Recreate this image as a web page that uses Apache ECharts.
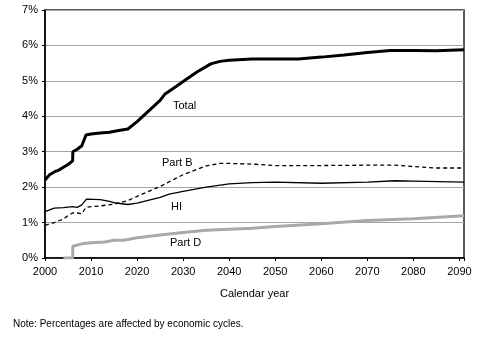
<!DOCTYPE html>
<html><head><meta charset="utf-8">
<script src="https://cdn.jsdelivr.net/npm/echarts@6/dist/echarts.min.js"></script>
<style>html,body{margin:0;padding:0;background:#fff}#c{width:500px;height:339px}</style>
</head><body><div id="c"></div>
<script>
var yTicks = ['0%','1%','2%','3%','4%','5%','6%','7%'];
var totalYears = [2000,2001,2002,2003,2004,2005,2006,2006.05,2007,2008,2008.9,2009,2010,2012,2014,2016,2018,2020,2022,2024,2025,2026,2028,2030,2033,2036,2038,2040,2045,2050,2055,2060,2065,2070,2075,2080,2085,2091];
var total = [2.2,2.35,2.43,2.48,2.56,2.64,2.74,3.0,3.07,3.17,3.47,3.5,3.5,3.53,3.55,3.6,3.64,3.85,4.09,4.33,4.45,4.62,4.8,4.98,5.25,5.48,5.55,5.58,5.62,5.62,5.62,5.67,5.73,5.8,5.86,5.86,5.85,5.88];
var partBYears = [2000,2002,2004,2005,2006,2007,2008,2008.9,2010,2012,2015,2018,2020,2022,2025,2028,2030,2033,2035,2038,2040,2045,2050,2060,2070,2076,2080,2085,2091];
var partB = [0.92,1.0,1.1,1.2,1.27,1.27,1.25,1.43,1.45,1.47,1.52,1.62,1.74,1.85,2.02,2.22,2.35,2.5,2.6,2.67,2.67,2.65,2.61,2.61,2.62,2.62,2.58,2.54,2.54];
var hiYears = [2000,2002,2004,2006,2007,2008,2009,2012,2014,2015,2018,2020,2025,2027,2030,2035,2040,2045,2050,2060,2070,2076,2080,2091];
var hi = [1.31,1.41,1.42,1.45,1.43,1.5,1.66,1.65,1.6,1.56,1.51,1.55,1.71,1.8,1.88,2.0,2.09,2.13,2.14,2.11,2.14,2.18,2.17,2.14];
var partDYears = [2004,2006,2006.05,2008,2010,2013,2015,2017,2018,2020,2025,2030,2035,2040,2045,2050,2060,2070,2080,2091];
var partD = [0,0,0.33,0.4,0.43,0.45,0.5,0.5,0.52,0.57,0.65,0.72,0.78,0.81,0.84,0.89,0.97,1.06,1.11,1.19];
function pairs(xs, ys){ return xs.map(function(x,i){return [x, ys[i]];}); }
var chart = echarts.init(document.getElementById('c'));
var font = 'Liberation Sans, Arial, sans-serif';
chart.setOption({
  animation:false,
  grid:{left:45,right:36,top:10,bottom:81,show:true,borderColor:'#222',borderWidth:1.5,backgroundColor:'transparent'},
  xAxis:{type:'value',min:2000,max:2091,interval:10,
    name:'Calendar year',nameLocation:'middle',nameGap:30,
    nameTextStyle:{color:'#000',fontFamily:font,fontSize:11},
    axisLine:{lineStyle:{color:'#000',width:1.5}},
    axisTick:{show:true,length:3,lineStyle:{color:'#000'}},
    axisLabel:{color:'#000',fontFamily:font,fontSize:11,margin:8,
      formatter:function(v){return v%10===0?String(v):'';}},
    splitLine:{show:false}},
  yAxis:{type:'value',min:0,max:7,interval:1,
    axisLine:{show:true,lineStyle:{color:'#000',width:1.5}},
    axisTick:{show:true,length:3,lineStyle:{color:'#000'}},
    axisLabel:{color:'#000',fontFamily:font,fontSize:11,margin:7,
      formatter:function(v){return yTicks[v];}},
    splitLine:{show:true,lineStyle:{color:'#a6a6a6',width:1}}},
  series:[
    {name:'Part D',type:'line',data:pairs(partDYears,partD),showSymbol:false,
      lineStyle:{color:'#a9a9a9',width:3}},
    {name:'HI',type:'line',data:pairs(hiYears,hi),showSymbol:false,
      lineStyle:{color:'#000',width:1.3}},
    {name:'Part B',type:'line',data:pairs(partBYears,partB),showSymbol:false,
      lineStyle:{color:'#000',width:1.3,type:[4,3]}},
    {name:'Total',type:'line',data:pairs(totalYears,total),showSymbol:false,
      lineStyle:{color:'#000',width:3}}
  ],
  graphic:[
    {type:'text',left:173,top:100,style:{text:'Total',fill:'#000',font:'11px '+font}},
    {type:'text',left:162,top:157,style:{text:'Part B',fill:'#000',font:'11px '+font}},
    {type:'text',left:171,top:201,style:{text:'HI',fill:'#000',font:'11px '+font}},
    {type:'text',left:170,top:237,style:{text:'Part D',fill:'#000',font:'11px '+font}},
    {type:'text',left:13,top:319,style:{text:'Note: Percentages are affected by economic cycles.',fill:'#000',font:'10px '+font}}
  ]
});
</script></body></html>
